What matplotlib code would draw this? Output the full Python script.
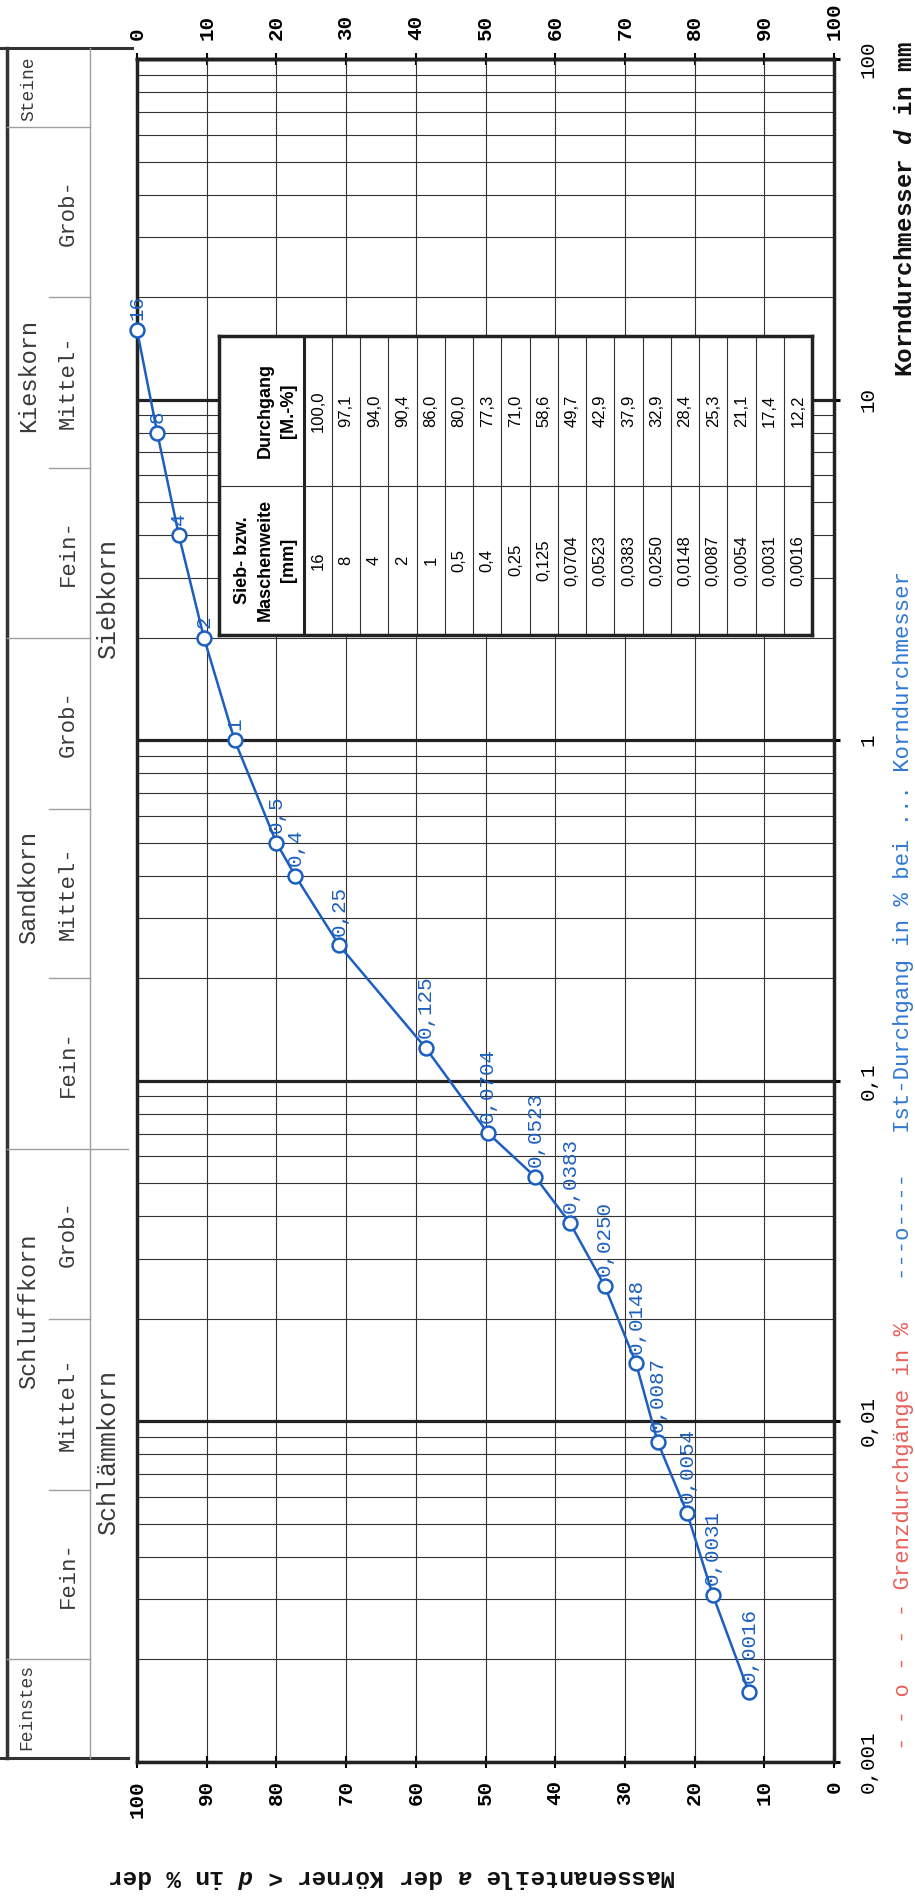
import numpy as np
import matplotlib.pyplot as plt
from matplotlib.ticker import FixedLocator, LogLocator, NullFormatter

plt.rcParams['mathtext.fontset'] = 'custom'
plt.rcParams['mathtext.rm'] = 'Liberation Mono:bold'
plt.rcParams['mathtext.it'] = 'Liberation Mono:italic:bold'
plt.rcParams['mathtext.bf'] = 'Liberation Mono:bold'

MONO = 'Liberation Mono'
SANS = 'Liberation Sans'
BLUE = '#1c5fc0'

# Siebanalyse: Maschenweite [mm] und Durchgang [M.-%]
sieve_labels = ['16', '8', '4', '2', '1', '0,5', '0,4', '0,25', '0,125', '0,0704',
                '0,0523', '0,0383', '0,0250', '0,0148', '0,0087', '0,0054', '0,0031', '0,0016']
passing = [100.0, 97.1, 94.0, 90.4, 86.0, 80.0, 77.3, 71.0, 58.6, 49.7,
           42.9, 37.9, 32.9, 28.4, 25.3, 21.1, 17.4, 12.2]
sieve_mm = [float(s.replace(',', '.')) for s in sieve_labels]

pct_ticks = list(range(0, 101, 10))
d_ticks = [0.001, 0.01, 0.1, 1, 10, 100]
d_tick_labels = ['0,001', '0,01', '0,1', '1', '10', '100']

# Kornfraktionen (Grenzen in mm)
bounds_full = [63, 2, 0.002]          # ueber Spalte 1+2
bounds_sub = [20, 6.3, 0.63, 0.2, 0.02, 0.0063]   # nur Spalte 2
bounds_all = [0.063]                  # alle Spalten
sub_edges = [63, 20, 6.3, 2, 0.63, 0.2, 0.063, 0.02, 0.0063, 0.002]
sub_names = ['Grob-', 'Mittel-', 'Fein-'] * 3
main_names = ['Kieskorn', 'Sandkorn', 'Schluffkorn']
main_pos = [11.8, 0.37, 0.021]

W, H = 915, 1898
fig = plt.figure(figsize=(W / 100, H / 100), dpi=100)


def box(x0, y0, x1, y1):
    return [x0 / W, 1 - y1 / H, (x1 - x0) / W, (y1 - y0) / H]


# Hauptdiagramm
ax = fig.add_axes(box(137, 59, 834, 1762))
ax.set_xlim(100, 0)
ax.set_yscale('log')
ax.set_ylim(0.001, 100)

ax.set_xticks(pct_ticks)
ax.set_xticklabels([str(t) for t in pct_ticks], fontfamily=MONO, fontweight='bold', fontsize=15)
ax.tick_params(axis='x', direction='inout', length=9, width=1.5, pad=8.5,
               labelrotation=90, top=False)

sec = ax.secondary_xaxis('top', functions=(lambda p: 100 - p, lambda r: 100 - r))
sec.set_xticks(pct_ticks)
sec.set_xticklabels([str(t) for t in pct_ticks], fontfamily=MONO, fontweight='bold', fontsize=15)
sec.tick_params(axis='x', direction='inout', length=9, width=1.5, pad=9, labelrotation=90)
sec.spines['top'].set_linewidth(2.5)

ax.yaxis.tick_right()
ax.yaxis.set_major_locator(FixedLocator(d_ticks))
ax.yaxis.set_minor_locator(LogLocator(base=10, subs=np.arange(2, 10)))
ax.yaxis.set_minor_formatter(NullFormatter())
ax.set_yticklabels(d_tick_labels, fontfamily=MONO, fontsize=15)
for lbl in ax.get_yticklabels():
    lbl.set_rotation(90)
    lbl.set_va('center')
    lbl.set_ha('left')
ax.tick_params(axis='y', which='major', direction='out', length=4.5, width=2.2, pad=13)
ax.tick_params(axis='y', which='minor', length=0)

ax.grid(True, which='major', axis='y', color='#222222', lw=2.3)
ax.grid(True, which='minor', axis='y', color='#333333', lw=0.8)
ax.grid(True, which='major', axis='x', color='#333333', lw=0.8)
for sp in ax.spines.values():
    sp.set_linewidth(2.5)
    sp.set_color('#222222')

ax.plot(passing, sieve_mm, '-o', color=BLUE, lw=1.8, ms=10, mfc='white',
        mec=BLUE, mew=1.8, zorder=6, clip_on=False)
for lbl, p, d in zip(sieve_labels, passing, sieve_mm):
    ax.annotate(lbl, (p, d), xytext=(0, 7), textcoords='offset points',
                rotation=90, ha='center', va='bottom', color=BLUE,
                fontsize=15, fontfamily=MONO, zorder=7)

# Tabelle
n = len(sieve_labels)
head_w = 3.0
tab = fig.add_axes(box(219, 336, 812, 635), zorder=10)
tab.set_facecolor('white')
tab.set_xlim(0, head_w + n)
tab.set_ylim(2, 0)
tab.set_xticks([])
tab.set_yticks([])
for sp in tab.spines.values():
    sp.set_linewidth(2.5)
    sp.set_color('#222222')
tab.axvline(head_w, color='#222222', lw=2.2)
for i in range(1, n):
    tab.axvline(head_w + i, color='#333333', lw=0.8)
tab.axhline(1, color='#333333', lw=0.8)
tab.text(head_w - 0.25, 0.5, 'Durchgang\n[M.-%]', rotation=90, ha='right', va='center',
         fontfamily=SANS, fontweight='bold', fontsize=13, linespacing=1.45, multialignment='center')
tab.text(head_w - 0.25, 1.5, 'Sieb- bzw.\nMaschenweite\n[mm]', rotation=90, ha='right', va='center',
         fontfamily=SANS, fontweight='bold', fontsize=13, linespacing=1.45, multialignment='center')
for i, (s, p) in enumerate(zip(sieve_labels, passing)):
    tab.text(head_w + i + 0.5, 0.5, f'{p:.1f}'.replace('.', ','), rotation=90,
             ha='center', va='center', fontfamily=SANS, fontsize=12)
    tab.text(head_w + i + 0.5, 1.5, s, rotation=90,
             ha='center', va='center', fontfamily=SANS, fontsize=12)

# Kornfraktionsband links
band = fig.add_axes(box(0, 59, 137, 1762))
band.set_yscale('log')
band.set_ylim(0.001, 100)
band.set_xlim(0, 137)
band.axis('off')
b_top, b_bot = 107.7, 0.00103
LG = '#a0a0a0'
band.plot([0, 132], [b_top, b_top], color='#333333', lw=2.2, clip_on=False)
band.plot([0, 128], [b_bot, b_bot], color='#333333', lw=2.2, clip_on=False)
band.plot([7, 7], [b_bot, b_top], color='#333333', lw=2.5, clip_on=False)
band.plot([90, 90], [b_bot, b_top], color=LG, lw=1.0, clip_on=False)
for b in bounds_full:
    band.plot([7, 90], [b, b], color=LG, lw=1.0)
for b in bounds_sub:
    band.plot([49, 90], [b, b], color=LG, lw=1.0)
for b in bounds_all:
    band.plot([7, 128], [b, b], color=LG, lw=1.0)

TC = '#3a3a3a'
for name, a, b in zip(sub_names, sub_edges[:-1], sub_edges[1:]):
    band.text(68, np.sqrt(a * b), name, rotation=90, ha='center', va='center',
              fontfamily=MONO, fontsize=16, color=TC)
for name, d in zip(main_names, main_pos):
    band.text(29, d, name, rotation=90, ha='center', va='center',
              fontfamily=MONO, fontsize=17, color=TC)
band.text(29, 82, 'Steine', rotation=90, ha='center', va='center',
          fontfamily=MONO, fontsize=13, color=TC)
band.text(27, 0.00145, 'Feinstes', rotation=90, ha='center', va='center',
          fontfamily=MONO, fontsize=13, color=TC)
band.text(108, 2.6, 'Siebkorn', rotation=90, ha='center', va='center',
          fontfamily=MONO, fontsize=18, color=TC)
band.text(108, 0.0081, 'Schlämmkorn', rotation=90, ha='center', va='center',
          fontfamily=MONO, fontsize=18, color=TC)

# Beschriftungen aussen
fig.text(903 / W, 1 - 1750 / H, '- - o - - - Grenzdurchgänge in %', rotation=90,
         ha='center', va='bottom', fontfamily=MONO, fontsize=16, color='#e8605c')
fig.text(903 / W, 1 - 1280 / H, '---o----   Ist-Durchgang in % bei ... Korndurchmesser',
         rotation=90, ha='center', va='bottom', fontfamily=MONO, fontsize=16, color='#2f78d4')
fig.text(905 / W, 1 - 377 / H, r'Korndurchmesser $d$ in mm', rotation=90,
         ha='center', va='bottom', fontfamily=MONO, fontweight='bold', fontsize=17.5, color='#111111')
fig.text(392 / W, 1 - 1877 / H, r'Massenanteile $a$ der Körner < $d$ in % der', rotation=180,
         ha='center', va='center', fontfamily=MONO, fontweight='bold', fontsize=17.5, color='#111111')

fig.savefig('out.png', dpi=100, facecolor='white')
